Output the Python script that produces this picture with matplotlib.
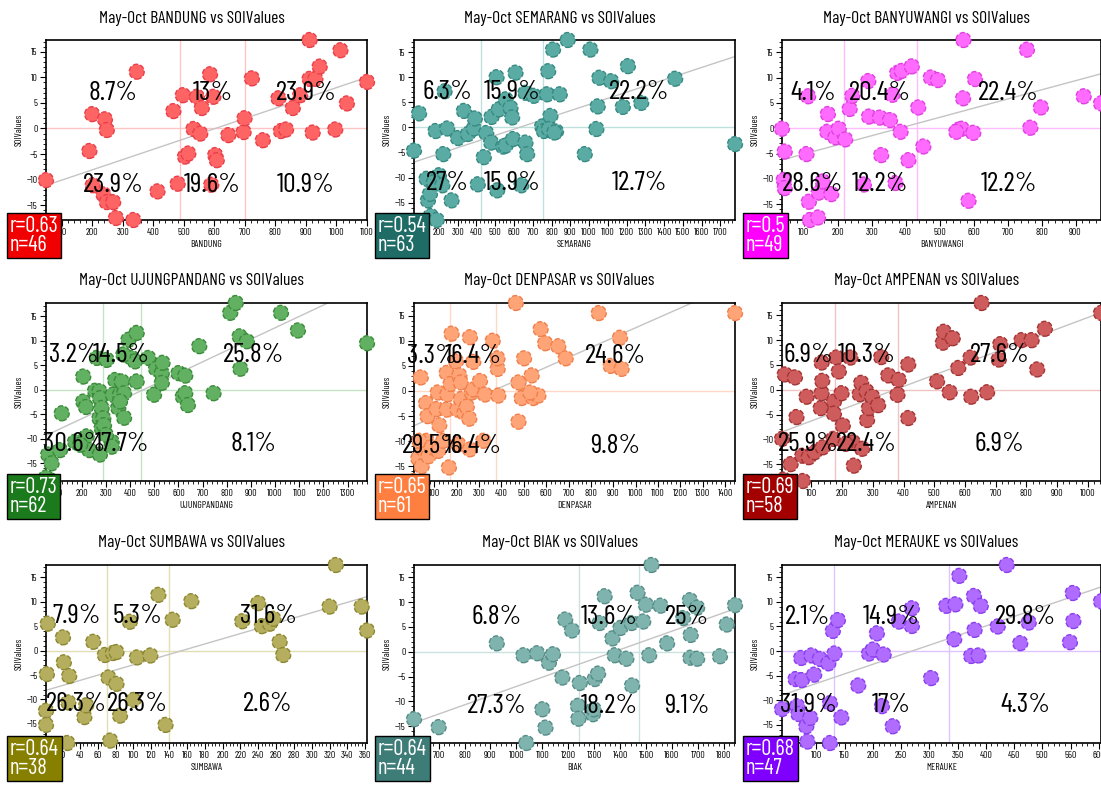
import matplotlib
matplotlib.use('Agg')
import matplotlib.pyplot as plt
import numpy as np
from matplotlib.ticker import MultipleLocator, AutoMinorLocator

plt.rcParams['font.family'] = ['Barlow Condensed', 'Archivo Narrow', 'DejaVu Sans']

# rainfall (x) against the May-Oct SOI value (y), one list pair per station
bandung_x = [49, 346, 191, 200, 242, 248, 202, 237, 248, 269, 278, 335, 414, 466, 480,
             497, 504, 515, 532, 543, 554, 559, 586, 597, 603, 608, 646, 696, 699, 590,
             723, 759, 810, 818, 835, 857, 912, 912, 931, 945, 922, 996, 1013, 1034, 1100, 881]
bandung_soi = [-10.1, 11.1, -4.4, 2.8, 1.8, -0.3, -11.1, -12.9, -14.4, -14.4, -17.5, -17.9, -12.3, 3.4, -10.8,
               6.5, -5.5, -4.9, -0.1, 6.2, -1.0, 4.0, 10.6, 6.2, -5.2, -6.2, -1.3, -0.7, 2.0, -11.0,
               9.8, -2.3, 5.9, -0.5, -0.2, 4.0, 17.3, 9.7, 9.7, 12.1, -0.8, -0.2, 15.3, 4.9, 9.1, 6.5]

semarang_x = [67, 94, 134, 141, 152, 156, 188, 182, 200, 223, 230, 244, 267, 301, 333, 354, 386, 391, 407, 173, 218,
              439, 452, 478, 480, 507, 519, 510, 542, 555, 555, 581, 590, 595, 608, 661, 670, 661, 705, 639, 750,
              759, 776, 782, 794, 808, 803, 824, 844, 886, 977, 1007, 1039, 1046, 1055, 1118, 1180, 1207, 1278,
              1459, 1778, 786, 815]
semarang_soi = [-4.6, 2.8, -10.2, -14.5, -13.2, -17.6, -18.4, -0.7, -9.5, -5.3, 7.2, -0.2, -14.5, -2.1, 3.3, -1.3,
                -0.2, 1.8, -11.3, -10.9, -11.5,
                -5.9, -1.1, -3.0, 2.1, 10.0, 3.6, -12.5, -3.8, -3.6, 5.6, 3.9, 2.0, -2.3, 10.9, -3.0, -5.3, 6.9, 6.3,
                -11.5, 0.2,
                -0.7, 6.6, 11.2, 2.3, 15.5, -0.7, -0.8, 6.6, 17.4, -5.3, 15.5, -0.3, 4.2, 9.9, 9.2, 4.1, 12.2, 4.9,
                9.7, -3.3, -0.3, -1.0]

banyuwangi_x = [36, 44, 41, 44, 108, 113, 115, 118, 142, 144, 156, 169, 171, 181, 193, 203,
                222, 235, 243, 277, 290, 292, 324, 328, 354, 361, 375, 388, 385, 408, 418, 370,
                437, 452, 474, 495, 555, 565, 570, 569, 585, 599, 604, 757, 767, 798, 924, 975, 549]
banyuwangi_soi = [-0.1, -4.6, -10.2, -11.8, -5.1, 6.3, -14.5, -18.1, -17.6, -12.7, -10.5, -0.7, 2.8, -13.0, -1.8, -0.1,
                  -2.2, 3.8, 6.4, -11.1, 9.3, 2.3, 2.1, -5.3, 1.6, 6.6, 10.9, 11.3, -0.7, -6.3, 12.2, -10.8,
                  4.1, -3.6, 10.0, 9.5, -0.3, -0.1, 17.4, 5.9, -14.3, -0.9, 9.7, 15.5, 0.1, 4.1, 6.3, 4.9, -0.7]

ujungpandang_x = [52, 61, 75, 82, 110, 117, 172, 206, 206, 217, 220, 231, 255, 262, 273, 275, 273, 282, 282, 275, 193,
                  289, 292, 303, 324, 328, 338, 351, 358, 365, 375, 375, 393, 406, 420, 427, 427, 372, 300, 324, 358,
                  475, 499, 507, 531, 534, 531, 600, 618, 628, 628, 639, 686, 745, 814, 837, 853, 856, 883, 1024,
                  1094, 1380]
ujungpandang_soi = [-17.9, -13.2, -15.0, -18.6, -12.3, -4.8, -10.6, 2.7, -2.4, -3.5, -9.5, -12.3, -0.2, 6.5, -0.3,
                    -1.7, -5.8, -3.7, -7.8, -13.2, -11.2,
                    -5.8, -7.2, 6.1, -10.6, -1.0, 2.0, -3.7, -1.0, 1.7, -0.7, -5.7, 10.2, 6.5, 5.8, 11.6, 1.7, 7.2,
                    -9.2, -11.6, -2.4,
                    6.5, -1.0, 4.3, 3.4, 5.5, 1.4, 3.4, -1.4, -0.7, 2.9, -3.1, 8.9, -0.7, 15.7, 17.7, 10.9, 4.3, 9.9,
                    15.7, 12.1, 9.5]

denpasar_x = [9, 28, 39, 43, 51, 63, 69, 66, 73, 115, 110, 122, 155, 158, 155, 165, 33, 88, 118, 140,
              172, 177, 197, 203, 212, 218, 218, 234, 245, 256, 259, 267, 274, 274, 304, 326, 361, 207, 259, 319,
              383, 382, 386, 464, 476, 476, 490, 501, 535, 542, 565, 575, 595, 654, 687, 835, 888, 930, 937, 1444, 528]
denpasar_soi = [-17.9, -13.4, 2.7, -15.0, -11.6, -2.4, -5.0, -9.9, -13.0, -0.3, -3.6, -6.8, 3.6, -0.7, -3.7, -15.2,
                -9.9, -11.2, -11.9, -9.9,
                1.4, 11.4, 5.9, -3.7, 3.1, 1.7, -1.6, -4.4, -3.1, -5.5, 10.7, -0.3, 0.3, 5.8, 2.0, -0.7, 10.0, -10.6,
                -11.6, -9.9,
                4.4, 6.5, -0.9, 17.5, 1.7, -6.1, -1.4, 6.5, 3.1, -1.4, -0.9, 12.3, 9.5, 8.9, 6.5, 15.5, 5.0, 10.6,
                4.4, 15.5, -0.3]

ampenan_x = [4, 13, 8, 32, 46, 51, 70, 72, 84, 91, 110, 130, 133, 135, 133, 137, 173, 173, 171,
             181, 189, 198, 202, 227, 235, 238, 257, 262, 265, 279, 281, 287, 298, 317, 327, 350, 380, 211,
             384, 415, 415, 509, 528, 531, 550, 560, 578, 618, 620, 654, 672, 710, 715, 784, 817, 835, 860, 1043]
ampenan_soi = [-9.9, 3.1, -18.1, -15.0, 2.5, -5.5, -13.3, -18.4, -1.4, -13.6, -12.6, -3.7, -0.7, 1.8, 5.5, -11.6,
               -2.4, -4.8, -9.9,
               6.5, 3.7, -0.7, -7.2, 6.5, -10.6, -15.3, -0.9, 1.4, -11.9, -0.3, -6.1, -3.7, -1.4, -3.1, 6.6, 2.9,
               -1.0, -10.9,
               2.0, 5.1, -5.7, 1.7, 9.5, 11.7, -0.5, 10.4, 4.4, 6.5, -1.4, 17.5, -0.5, 6.1, 9.2, 10.0, 10.0, 4.1,
               12.3, 15.5]

sumbawa_x = [4, 3, 2, 2, 21, 22, 26, 28, 27, 45, 47, 55, 68,
             72, 74, 77, 81, 81, 85, 96, 104, 119, 128, 136, 100,
             144, 165, 222, 240, 244, 253, 264, 268, 320, 327, 356, 362, 257]
sumbawa_soi = [5.5, -4.8, -12.3, -15.2, 2.7, -2.4, -18.9, -5.2, -10.6, -13.6, -11.2, 1.8, -0.9,
               -5.5, -18.4, -0.5, -0.3, -6.8, -13.3, 5.9, -1.4, -1.0, 11.4, -15.2, -10.1,
               6.3, 10.1, 6.0, 9.7, 5.0, 5.5, 1.8, -0.9, 9.0, 17.5, 9.0, 4.1, 6.5]

biak_x = [605, 700, 924, 1027, 1038, 1080, 1100, 1112, 1125, 1141, 1177, 1188, 1214, 1237, 1239,
          1244, 1295, 1302, 1315, 1321, 1340, 1370, 1379, 1401, 1424, 1444, 1446, 1467, 1298,
          1489, 1499, 1512, 1521, 1556, 1581, 1669, 1672, 1671, 1697, 1697, 1785, 1811, 1843, 1643]
biak_soi = [-13.6, -15.2, 1.7, -0.7, -18.4, -0.3, -11.6, -15.3, -2.2, -0.5, -5.2, 6.5, 4.3, -10.9, -13.5,
            -6.3, -12.6, -5.5, -4.4, 5.8, 11.2, 2.7, -0.7, 4.8, -1.4, 5.8, -6.8, 11.9, -11.6,
            6.1, 9.5, -0.7, 17.5, 9.3, 1.7, 10.4, 3.4, -1.2, -1.4, 8.9, -0.9, 5.5, 9.4, 6.8]

merauke_x = [39, 63, 66, 68, 73, 74, 82, 84, 89, 91, 96, 106, 121, 124, 124, 129,
             132, 138, 144, 174, 193, 200, 207, 219, 235, 246, 269, 269, 303, 330, 216,
             344, 346, 353, 374, 379, 380, 387, 391, 421, 437, 461, 476, 549, 554, 555, 604]
merauke_soi = [-11.8, -5.7, -11.2, -12.8, -1.4, -5.9, -15.3, -18.4, -13.6, -0.9, -4.8, -1.6, -2.5, -10.6, -18.7, 4.1,
               -0.5, 6.3, -13.5, -7.0, -0.5, 0.3, 3.6, -0.7, -15.3, 6.0, 8.7, 5.1, -5.5, 9.2, -11.2,
               2.4, 9.5, 15.3, -1.0, 11.2, 4.3, -0.9, 9.2, 5.0, 17.5, 1.6, 5.8, 1.8, 11.8, 6.1, 10.1]

stations = ['BANDUNG', 'SEMARANG', 'BANYUWANGI', 'UJUNGPANDANG', 'DENPASAR',
            'AMPENAN', 'SUMBAWA', 'BIAK', 'MERAUKE']
rain = [bandung_x, semarang_x, banyuwangi_x, ujungpandang_x, denpasar_x,
        ampenan_x, sumbawa_x, biak_x, merauke_x]
soi = [bandung_soi, semarang_soi, banyuwangi_soi, ujungpandang_soi, denpasar_soi,
       ampenan_soi, sumbawa_soi, biak_soi, merauke_soi]
# tercile boundaries of rainfall
terciles = [(488, 701), (422, 755), (218, 432), (286, 444), (170, 374),
            (178, 382), (70, 140), (1241, 1473), (131, 335)]
r_values = [0.63, 0.54, 0.5, 0.73, 0.65, 0.69, 0.64, 0.64, 0.68]
x_steps = [100, 100, 100, 100, 100, 100, 20, 100, 50]

fills = ['#ff6464', '#5aaba4', '#ff6bff', '#62b062', '#ffa476',
         '#cf5c5c', '#b4ae5e', '#7fb3ae', '#b06cff']
edges = ['#e8404a', '#368a82', '#e040e0', '#3a8c3a', '#f07f4c',
         '#a33434', '#8c8730', '#578d88', '#8a3ff0']
boxes = ['#f00000', '#1f6b66', '#ff00ff', '#1b7a1b', '#ff7f40',
         '#a30000', '#867f00', '#3e7c78', '#8000ff']
guides = ['#ffc4c4', '#bde2de', '#ffbdff', '#c4e4c4', '#ffd8c6',
          '#f0c4c4', '#e2dfb4', '#cce2e0', '#ddc4ff']

W, H = 1101, 785
rows = [(40, 220), (303, 481), (565, 743)]
cols = [(46, 367), (414, 735), (782, 1101)]


def pct(n, total):
    s = f"{100 * n / total:.1f}"
    if s.endswith('.0'):
        s = s[:-2]
    return s + '%'


fig = plt.figure(figsize=(W / 100, H / 100), dpi=100)

for i, name in enumerate(stations):
    r, c = divmod(i, 3)
    top, bot = rows[r]
    left, right = cols[c]
    ax = fig.add_axes([left / W, 1 - bot / H, (right - left) / W, (bot - top) / H])
    x = np.array(rain[i], dtype=float)
    y = np.array(soi[i], dtype=float)
    v1, v2 = terciles[i]

    ax.set_xlim(x.min(), x.max())
    ax.set_ylim(y.min(), y.max())

    ax.axhline(0, color=guides[i], lw=1, zorder=1)
    ax.axvline(v1, color=guides[i], lw=1, zorder=1)
    ax.axvline(v2, color=guides[i], lw=1, zorder=1)

    # least squares line
    k, b = np.polyfit(x, y, 1)
    xx = np.array([x.min(), x.max()])
    ax.plot(xx, k * xx + b, color='#c4c4c4', lw=1, zorder=2)

    ax.scatter(x, y, s=115, c=fills[i], edgecolors=edges[i], linewidths=1,
               linestyle='--', zorder=3, clip_on=False)

    # share of years falling in each tercile / SOI sign cell
    bins = [x < v1, (x >= v1) & (x < v2), x >= v2]
    centers = [(x.min() + v1) / 2, (v1 + v2) / 2, (v2 + x.max()) / 2]
    for m, cx in zip(bins, centers):
        ax.text(cx, 7, pct(np.sum(m & (y > 0)), len(x)), ha='center', va='center',
                fontsize=20, zorder=5)
        ax.text(cx, -11, pct(np.sum(m & (y <= 0)), len(x)), ha='center', va='center',
                fontsize=20, zorder=5)

    ax.xaxis.set_major_locator(MultipleLocator(x_steps[i]))
    ax.xaxis.set_minor_locator(AutoMinorLocator(5))
    ax.yaxis.set_major_locator(MultipleLocator(5))
    ax.yaxis.set_minor_locator(AutoMinorLocator(5))
    ax.tick_params(which='major', direction='out', length=4, width=0.8, labelsize=7, pad=2)
    ax.tick_params(which='minor', direction='out', length=2, width=0.6)
    for sp in ax.spines.values():
        sp.set_linewidth(1.2)
    ax.set_xlabel(name, fontsize=7, labelpad=2)
    ax.set_ylabel('SOIValues', fontsize=7, labelpad=2)

    fig.text((left + right) / 2 / W - 15 / W, 1 - (top - 22) / H,
             f'May-Oct {name} vs SOIValues', ha='center', va='center', fontsize=12.5)

    fig.text((left - 36) / W, 1 - (bot - 4) / H, f'r={r_values[i]}\nn={len(x)}',
             ha='left', va='top', color='white', fontsize=16, linespacing=0.85,
             bbox=dict(boxstyle='square,pad=0.12', fc=boxes[i], ec='black', lw=1))

fig.savefig('out.png', dpi=100)
